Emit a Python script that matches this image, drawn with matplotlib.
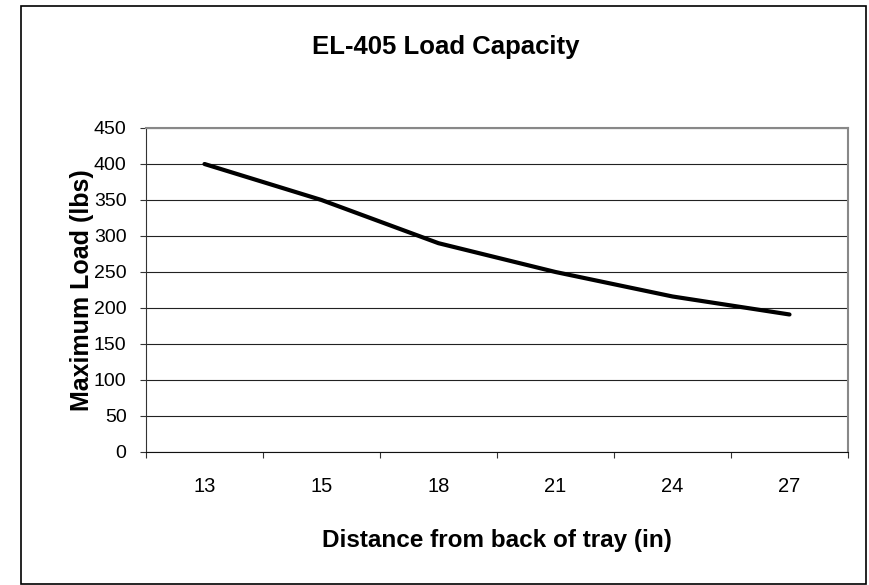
import numpy as np
import matplotlib
matplotlib.use('Agg')
import matplotlib.pyplot as plt
from matplotlib.patches import Rectangle

# distance from back of tray (in) and max load (lbs)
distances = ['13', '15', '18', '21', '24', '27']
max_load = [400, 350, 290, 250, 216, 191]
y_ticks = [0, 50, 100, 150, 200, 250, 300, 350, 400, 450]

plt.rcParams['font.family'] = ['Liberation Sans', 'DejaVu Sans']

W, H = 870, 585
fig = plt.figure(figsize=(W / 100, H / 100), dpi=100)
ax = fig.add_axes([146 / W, 1 - 452 / H, (848 - 146) / W, (452 - 128) / H])

x = np.arange(len(distances))
ax.plot(x, max_load, color='black', linewidth=3.0, solid_capstyle='round', zorder=3)

ax.set_xlim(-0.5, len(distances) - 0.5)
ax.set_ylim(0, 450)
ax.set_yticks(y_ticks)
ax.yaxis.grid(True, color='#222222', linewidth=0.8)
ax.set_axisbelow(True)

# category boundaries carry the tick marks, labels sit in the middle
ax.set_xticks(np.arange(-0.5, len(distances)), labels=[])
ax.set_xticks(x, labels=distances, minor=True)
ax.tick_params(axis='x', which='major', direction='out', length=4, width=0.8, color='#333333')
ax.tick_params(axis='x', which='minor', length=0, pad=18, labelsize=14.5)
ax.tick_params(axis='y', direction='out', length=4, width=0.8, color='#333333', pad=10, labelsize=14)

ax.spines['left'].set_color('#333333')
ax.spines['bottom'].set_color('#111111')
ax.spines['top'].set_color('#888888')
ax.spines['right'].set_color('#888888')
ax.spines['top'].set_linewidth(1.5)
ax.spines['right'].set_linewidth(1.5)

fig.text(446 / W, 1 - 54 / H, 'EL-405 Load Capacity', ha='center', va='baseline',
         fontsize=18.5, fontweight='bold')
fig.text(497 / W, 1 - 547 / H, 'Distance from back of tray (in)', ha='center', va='baseline',
         fontsize=17.5, fontweight='bold')
fig.text(82 / W, 1 - 290 / H, 'Maximum Load (lbs)', ha='center', va='center',
         rotation=90, fontsize=18, fontweight='bold')

# outer chart border
fig.patches.append(Rectangle((21 / W, 1 - 584 / H), (866 - 21) / W, (584 - 6) / H,
                             transform=fig.transFigure, fill=False,
                             edgecolor='black', linewidth=1.2))

fig.savefig('out.png', dpi=100)
